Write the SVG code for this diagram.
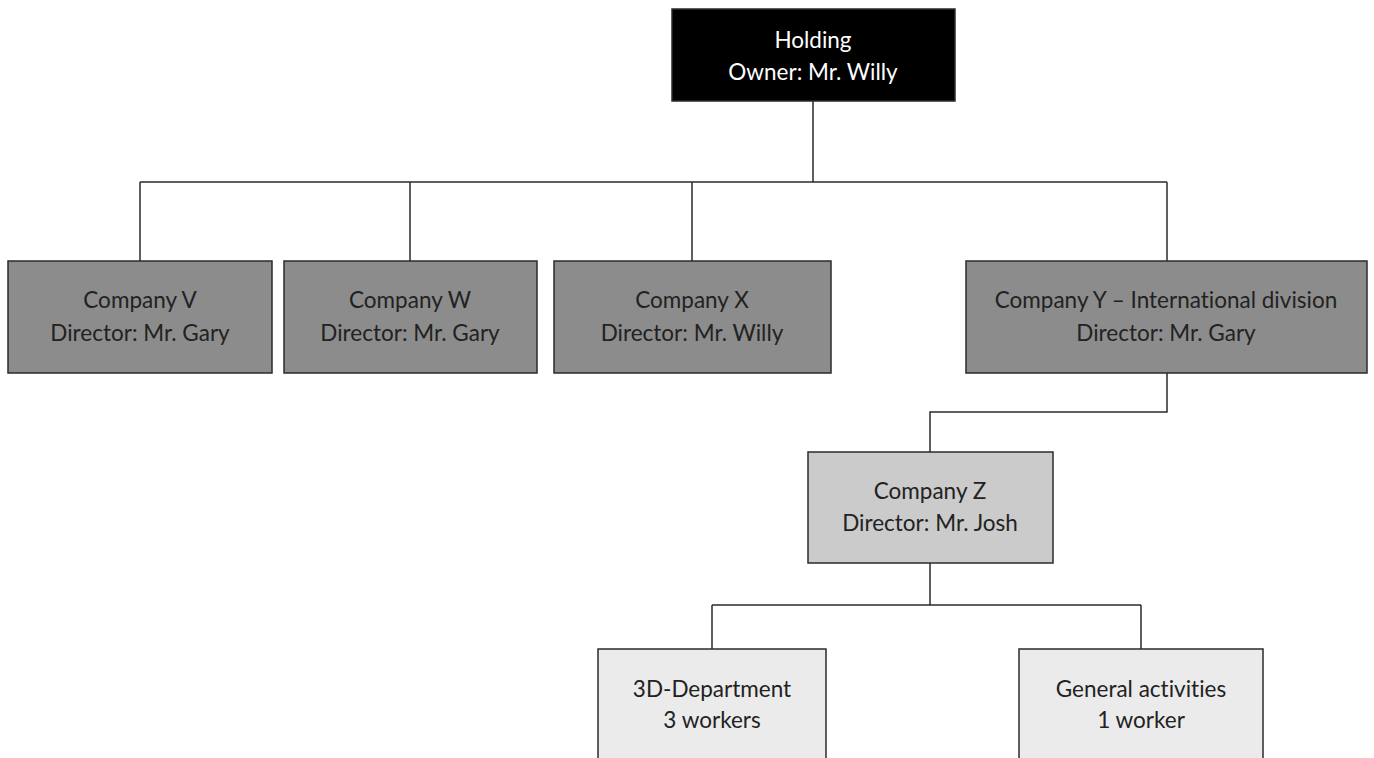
<svg xmlns="http://www.w3.org/2000/svg" width="1374" height="758" viewBox="0 0 1374 758">
<style>
.box{stroke:#2b2b2b;stroke-width:1.5}
.top{fill:#000000}
.l1{fill:#8c8c8c}
.l2{fill:#cbcbcb}
.l3{fill:#ebebeb}
text{font-family:Lato,"Open Sans",sans-serif;font-size:22.5px;text-anchor:middle;fill:#222222;font-variant-ligatures:none;font-feature-settings:"liga" 0,"dlig" 0}
.w{fill:#ffffff}
.conn{fill:none;stroke:#2b2b2b;stroke-width:1.5}
</style>
<rect width="1374" height="758" fill="#ffffff"/>
<g id="connectors">
<path class="conn" d="M813 101V182M140 182H1167M140 182V261M410 182V261M692 182V261M1167 182V261"/>
<path class="conn" d="M1167 373V412H930V452"/>
<path class="conn" d="M930 563V605M712 605H1141M712 605V649M1141 605V649"/>
</g>
<g id="holding">
<rect class="box top" x="672" y="9" width="283" height="92"/>
<text class="w" x="813" y="48">Holding</text>
<text class="w" x="813" y="80">Owner: Mr. Willy</text>
</g>
<g id="company-v">
<rect class="box l1" x="8" y="261" width="264" height="112"/>
<text x="140" y="308">Company V</text>
<text x="140" y="341">Director: Mr. Gary</text>
</g>
<g id="company-w">
<rect class="box l1" x="284" y="261" width="253" height="112"/>
<text x="410" y="308">Company W</text>
<text x="410" y="341">Director: Mr. Gary</text>
</g>
<g id="company-x">
<rect class="box l1" x="554" y="261" width="277" height="112"/>
<text x="692" y="308">Company X</text>
<text x="692" y="341">Director: Mr. Willy</text>
</g>
<g id="company-y">
<rect class="box l1" x="966" y="261" width="401" height="112"/>
<text x="1166" y="308">Company Y – International division</text>
<text x="1166" y="341">Director: Mr. Gary</text>
</g>
<g id="company-z">
<rect class="box l2" x="808" y="452" width="245" height="111"/>
<text x="930" y="499">Company Z</text>
<text x="930" y="531">Director: Mr. Josh</text>
</g>
<g id="dept-3d">
<rect class="box l3" x="598" y="649" width="228" height="115"/>
<text x="712" y="697">3D-Department</text>
<text x="712" y="728">3 workers</text>
</g>
<g id="general">
<rect class="box l3" x="1019" y="649" width="244" height="115"/>
<text x="1141" y="697">General activities</text>
<text x="1141" y="728">1 worker</text>
</g>
</svg>
